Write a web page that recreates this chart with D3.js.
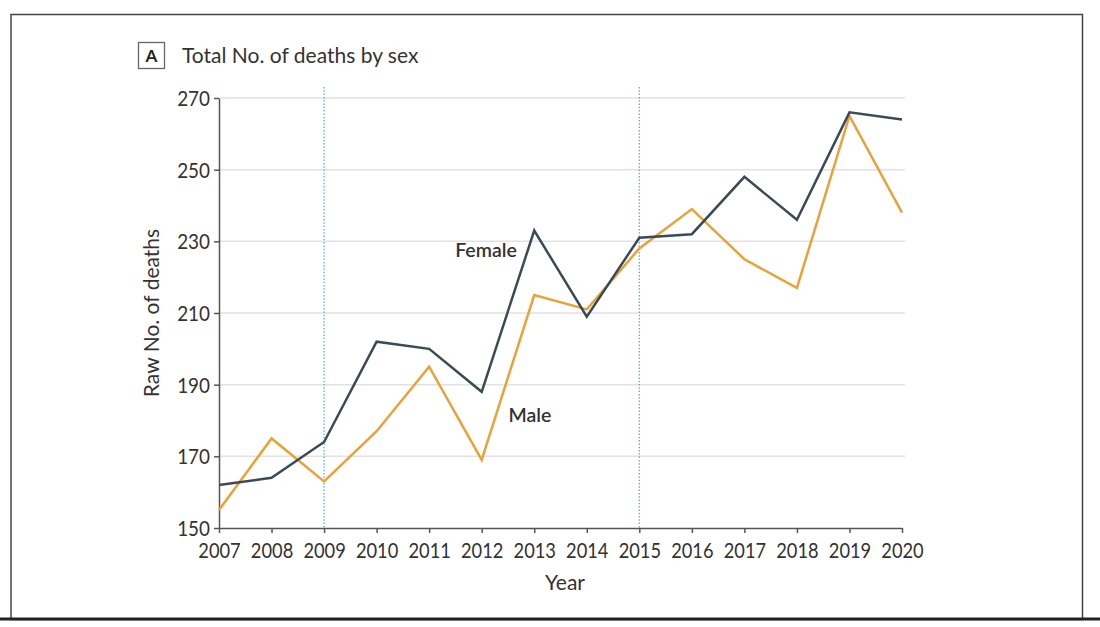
<!DOCTYPE html>
<html>
<head>
<meta charset="utf-8">
<script src="https://cdn.jsdelivr.net/npm/d3@7"></script>
<style>
html,body{margin:0;padding:0;background:#fff;}
svg{display:block;}
text{font-family:Lato,"Open Sans",sans-serif;}
</style>
</head>
<body>
<svg id="chart" width="1100" height="627"></svg>
<script>
const years = [2007,2008,2009,2010,2011,2012,2013,2014,2015,2016,2017,2018,2019,2020];
const female = [162,164,174,202,200,188,233,209,231,232,248,236,266,264];
const male   = [155,175,163,177,195,169,215,211,228,239,225,217,265,238];
const yTicks = [150,170,190,210,230,250,270];
const markerYears = [2009,2015];

const svg = d3.select("#chart");
// frame
svg.append("rect").attr("x",11).attr("y",14.5).attr("width",1071.5).attr("height",605)
  .attr("fill","none").attr("stroke","#444").attr("stroke-width",1.5);
svg.append("line").attr("x1",0).attr("x2",1100).attr("y1",619).attr("y2",619)
  .attr("stroke","#222").attr("stroke-width",3);

const x = d3.scaleLinear().domain([2007,2020]).range([219,902]);
const y = d3.scaleLinear().domain([150,270]).range([528,98]);

// gridlines
svg.append("g").selectAll("line").data(yTicks.filter(d=>d!==150)).join("line")
  .attr("x1",220).attr("x2",905).attr("y1",d=>y(d)).attr("y2",d=>y(d))
  .attr("stroke","#e2e2e2").attr("stroke-width",1.5);

// marker lines
svg.append("g").selectAll("line").data(markerYears).join("line")
  .attr("x1",d=>x(d)).attr("x2",d=>x(d)).attr("y1",87).attr("y2",528)
  .attr("stroke","#5aaed0").attr("stroke-width",1.3).attr("stroke-dasharray","1.5,1.8");

// axes
const xAxis = svg.append("g").attr("transform","translate(0,528)")
  .call(d3.axisBottom(x).tickValues(years).tickFormat(d3.format("d")).tickSize(5).tickSizeOuter(0));
const yAxis = svg.append("g").attr("transform","translate(219,0)")
  .call(d3.axisLeft(y).tickValues(yTicks).tickSize(5).tickSizeOuter(0));
[xAxis,yAxis].forEach(a=>{
  a.select(".domain").attr("stroke","#555").attr("stroke-width",1.5);
  a.selectAll(".tick line").attr("stroke","#555").attr("stroke-width",1.5);
  a.selectAll(".tick text").attr("fill","#333").style("font-size","21px").style("font-family","Lato, sans-serif");
});
xAxis.selectAll(".tick text").attr("dy",0).attr("y",30).attr("transform","scale(0.87,1)");
yAxis.selectAll(".tick text").attr("x",-10).attr("dy","0.36em").attr("transform","scale(0.9,1)");

// lines
const line = d3.line().x((d,i)=>x(years[i])).y(d=>y(d));
svg.append("path").datum(male).attr("d",line).attr("fill","none")
  .attr("stroke","#e9a23b").attr("stroke-width",2.5).attr("stroke-linejoin","miter");
svg.append("path").datum(female).attr("d",line).attr("fill","none")
  .attr("stroke","#3a4b56").attr("stroke-width",2.5).attr("stroke-linejoin","miter");

// series labels
svg.append("text").attr("x",486).attr("y",257).attr("text-anchor","middle")
  .attr("fill","#333").style("font-size","19.5px").style("font-weight","600").text("Female");
svg.append("text").attr("x",530).attr("y",422).attr("text-anchor","middle")
  .attr("fill","#333").style("font-size","19.5px").style("font-weight","600").text("Male");

// axis titles
svg.append("text").attr("x",565).attr("y",590).attr("text-anchor","middle")
  .attr("fill","#333").style("font-size","21px").text("Year");
svg.append("text").attr("transform","translate(159,313) rotate(-90)").attr("text-anchor","middle")
  .attr("fill","#333").style("font-size","21px").text("Raw No. of deaths");

// title
svg.append("rect").attr("x",138.5).attr("y",42.5).attr("width",26).attr("height",26)
  .attr("fill","#fff").attr("stroke","#666").attr("stroke-width",1.3);
svg.append("text").attr("x",151.5).attr("y",62).attr("text-anchor","middle")
  .attr("fill","#222").style("font-size","17px").style("font-weight","700").text("A");
svg.append("text").attr("x",182).attr("y",63)
  .attr("fill","#333").style("font-size","21px").text("Total No. of deaths by sex");
</script>
</body>
</html>
